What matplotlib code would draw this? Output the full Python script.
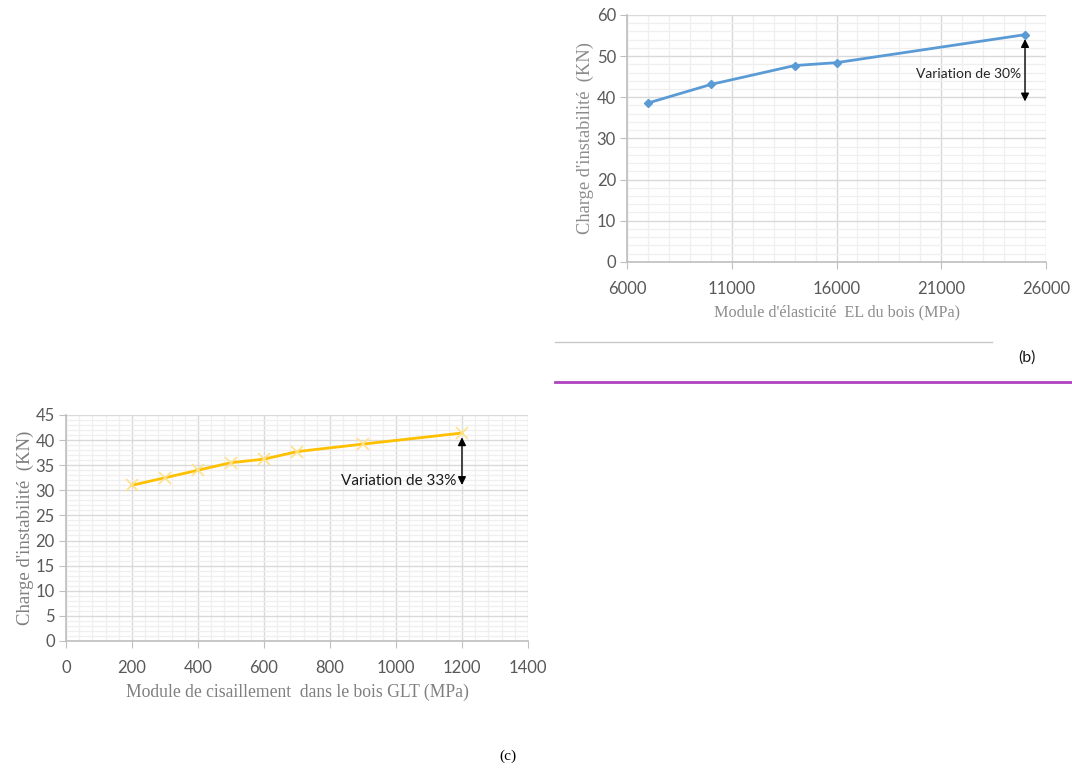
import matplotlib.pyplot as plt
from matplotlib.lines import Line2D

# (b) load vs longitudinal modulus
el_b = [7000, 10000, 14000, 16000, 25000]
charge_b = [38.6, 43.1, 47.7, 48.4, 55.2]

# (c) load vs shear modulus
g_c = [200, 300, 400, 500, 600, 700, 900, 1200]
charge_c = [31.0, 32.5, 34.0, 35.5, 36.2, 37.7, 39.2, 41.4]

TICK_FONT = 'Lato'
TITLE_FONT = 'Liberation Serif'
GRID_MAJ = '#d9d9d9'
GRID_MIN = '#efefef'


def style_axes(ax, xmaj, xmin, ymaj, ymin):
    ax.set_xticks(xmaj)
    ax.set_xticks(xmin, minor=True)
    ax.set_yticks(ymaj)
    ax.set_yticks(ymin, minor=True)
    ax.grid(which='major', color=GRID_MAJ, lw=1.0)
    ax.grid(which='minor', color=GRID_MIN, lw=0.9)
    ax.set_axisbelow(True)
    for s in ['top', 'right']:
        ax.spines[s].set_visible(False)
    for s in ['left', 'bottom']:
        ax.spines[s].set_color('#bfbfbf')
        ax.spines[s].set_linewidth(1.2)
    ax.tick_params(which='major', length=5, color='#bfbfbf', labelcolor='#595959',
                   labelsize=12)
    ax.tick_params(axis='x', pad=9)
    ax.tick_params(axis='y', pad=3)
    ax.tick_params(which='minor', length=0)
    for lab in ax.get_xticklabels() + ax.get_yticklabels():
        lab.set_fontfamily(TICK_FONT)


fig = plt.figure(figsize=(10.72, 7.68), dpi=100)

# ---- chart (b)
axb = fig.add_axes([0.585, 0.659, 0.3907, 0.3216])
axb.set_xlim(6000, 26000)
axb.set_ylim(0, 60)
style_axes(axb, range(6000, 26001, 5000), range(6000, 26001, 1000),
           range(0, 61, 10), range(0, 61, 2))
axb.plot(el_b, charge_b, color='#5b9bd5', lw=2, marker='D', ms=4.5,
         markerfacecolor='#5b9bd5', markeredgecolor='#5b9bd5', clip_on=False)
axb.annotate('', xy=(25000, 38.3), xytext=(25000, 54.8),
             arrowprops=dict(arrowstyle='<|-|>', color='black', lw=1, mutation_scale=12))
axb.text(24800, 45.6, 'Variation de 30%', ha='right', va='center',
         fontsize=10, family=TICK_FONT, color='#262626')
axb.set_xlabel("Module d'élasticité  EL du bois (MPa)", family=TITLE_FONT,
               fontsize=11.6, color='#8c8c8c', labelpad=5)
axb.set_ylabel("Charge d'instabilité  (KN)", family=TITLE_FONT,
               fontsize=13.3, color='#8c8c8c', labelpad=2)

# ---- chart (c)
axc = fig.add_axes([0.0616, 0.1654, 0.4309, 0.2943])
axc.set_xlim(0, 1400)
axc.set_ylim(0, 45)
style_axes(axc, range(0, 1401, 200), range(0, 1401, 40),
           range(0, 46, 5), range(0, 46, 1))
axc.plot(g_c, charge_c, color='#ffc000', lw=2, marker='x', ms=8,
         markeredgecolor='#ffe18a', markeredgewidth=1.2, clip_on=False)
axc.annotate('', xy=(1200, 30.5), xytext=(1200, 41.1),
             arrowprops=dict(arrowstyle='<|-|>', color='black', lw=1, mutation_scale=12))
axc.text(1184, 31.8, 'Variation de 33%', ha='right', va='center',
         fontsize=11, family=TICK_FONT, color='#1a1a1a')
axc.set_xlabel('Module de cisaillement  dans le bois GLT (MPa)', family=TITLE_FONT,
               fontsize=12.7, color='#7f7f7f', labelpad=5)
axc.set_ylabel("Charge d'instabilité  (KN)", family=TITLE_FONT,
               fontsize=13.5, color='#7f7f7f', labelpad=1)

# ---- page decorations
fig.add_artist(Line2D([555 / 1072, 992 / 1072], [1 - 342 / 768] * 2,
                      color='#c8c8c8', lw=1, transform=fig.transFigure))
fig.add_artist(Line2D([555 / 1072, 1.0], [1 - 382 / 768] * 2,
                      color='#b042c2', lw=2, transform=fig.transFigure))
fig.text(1027 / 1072, 1 - 358 / 768, '(b)', ha='center', va='center',
         fontsize=11.5, family=TICK_FONT, color='#1a1a1a')
fig.text(508 / 1072, 1 - 756 / 768, '(c)', ha='center', va='center',
         fontsize=11, family=TITLE_FONT, color='black')

fig.savefig('out.png', dpi=100)
